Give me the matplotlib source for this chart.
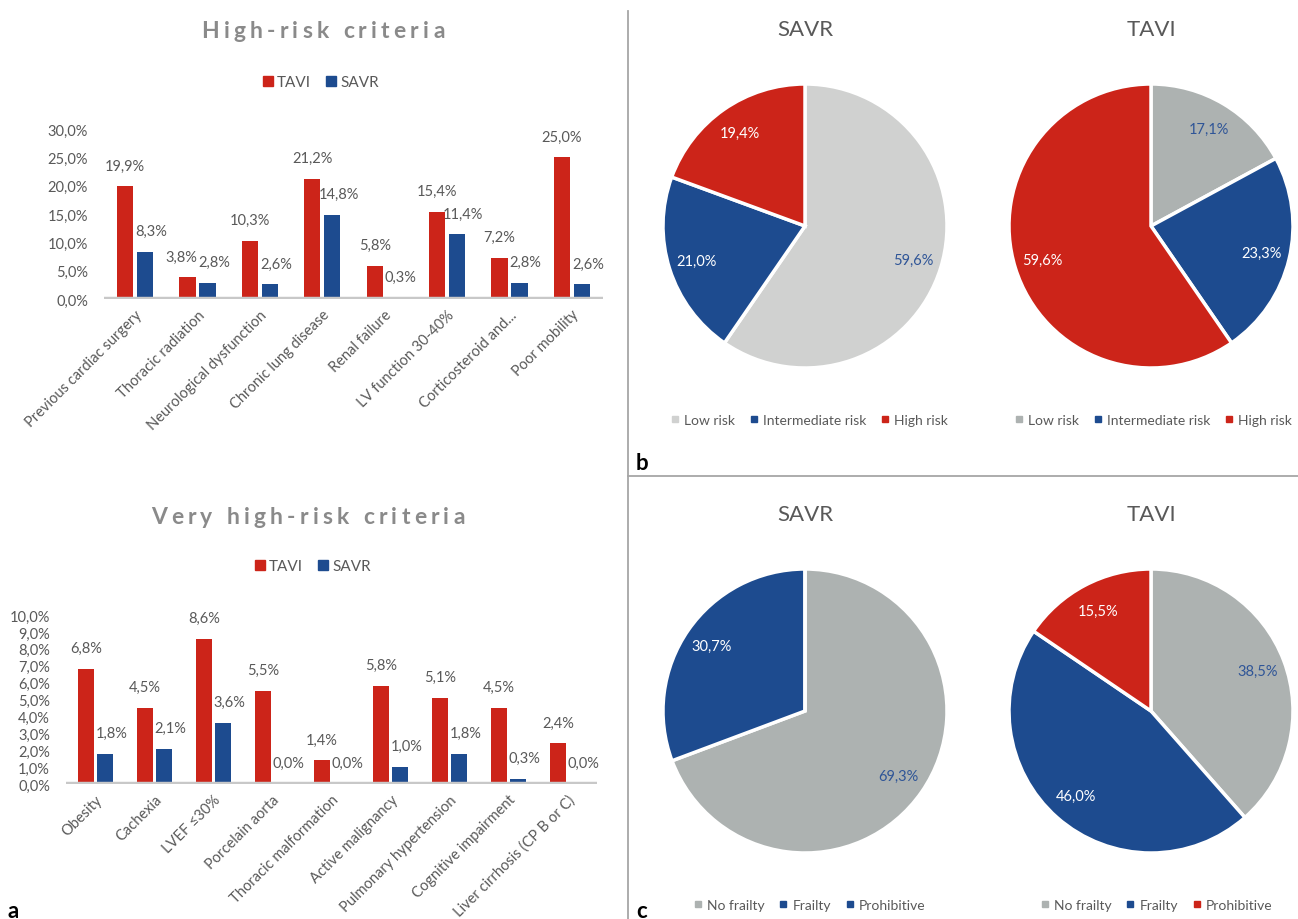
import numpy as np
import matplotlib
matplotlib.use('Agg')
import matplotlib.pyplot as plt
from matplotlib.lines import Line2D
from matplotlib.patches import Patch
from matplotlib.ticker import FuncFormatter

plt.rcParams['font.family'] = ['Lato', 'DejaVu Sans']

# ---------------------------------------------------------------------------
# Data

high_cats = ['Previous cardiac surgery', 'Thoracic radiation', 'Neurological dysfunction',
             'Chronic lung disease', 'Renal failure', 'LV function 30-40%',
             'Corticosteroid and...', 'Poor mobility']
high_tavi = [19.9, 3.8, 10.3, 21.2, 5.8, 15.4, 7.2, 25.0]
high_savr = [8.3, 2.8, 2.6, 14.8, 0.3, 11.4, 2.8, 2.6]

very_cats = ['Obesity', 'Cachexia', 'LVEF ≤30%', 'Porcelain aorta', 'Thoracic malformation',
             'Active malignancy', 'Pulmonary hypertension', 'Cognitive impairment',
             'Liver cirrhosis (CP B or C)']
very_tavi = [6.8, 4.5, 8.6, 5.5, 1.4, 5.8, 5.1, 4.5, 2.4]
very_savr = [1.8, 2.1, 3.6, 0.0, 0.0, 1.0, 1.8, 0.3, 0.0]

risk_labels = ['Low risk', 'Intermediate risk', 'High risk']
risk_savr = [59.6, 21.0, 19.4]
risk_tavi = [17.1, 23.3, 59.6]

frailty_labels = ['No frailty', 'Frailty', 'Prohibitive']
frailty_savr = [69.3, 30.7, 0.0]
frailty_tavi = [38.5, 46.0, 15.5]

# ---------------------------------------------------------------------------
# Style

RED = '#cc2419'
BLUE = '#1d4b8f'
GRAY = '#adb2b1'
GRAY_LIGHT = '#d0d1d0'
TEXT = '#595959'
TITLE = '#8a8a8a'
PCT_BLUE = '#2f5597'
FS = 10.5

W, H = 1298, 920
fig = plt.figure(figsize=(W / 100, H / 100), dpi=100)


def fx(px):
    return px / W


def fy(py):
    return 1 - py / H


def pct(v):
    return f'{v:.1f}%'.replace('.', ',')


def spaced_title(xc, y, s, gap, **kw):
    # matplotlib has no letter spacing, so place the characters one by one
    r = fig.canvas.get_renderer()
    widths = []
    for ch in s:
        t = fig.text(0, 0, ch, **kw)
        w = t.get_window_extent(r).width
        t.remove()
        widths.append(w if ch != ' ' else kw['fontsize'] * 0.35)
    total = sum(widths) + gap * (len(s) - 1)
    x = xc - total / 2
    for ch, w in zip(s, widths):
        if ch != ' ':
            fig.text(fx(x), fy(y), ch, ha='left', va='center', **kw)
        x += w + gap


def bar_panel(rect, cats, tavi, savr, ymax, ystep, title, title_xy, leg_xy):
    ax = fig.add_axes(rect)
    x = np.arange(len(cats))
    w, off = 0.26, 0.16
    b1 = ax.bar(x - off, tavi, w, color=RED)
    b2 = ax.bar(x + off, savr, w, color=BLUE)
    # SAVR labels sit a little to the right so they clear the red bars;
    # when both labels end up at the same height the TAVI one moves left
    for i in range(len(cats)):
        close = abs(tavi[i] - savr[i]) < 0.3 * ystep
        for b, v, dx in ((b1[i], tavi[i], -4.5 if close else 0), (b2[i], savr[i], 4.5)):
            ax.annotate(pct(v), (b.get_x() + b.get_width() / 2, v), xytext=(dx, 15),
                        textcoords='offset points', ha='center', va='center',
                        fontsize=FS, color=TEXT)
    ax.set_xlim(-0.5, len(cats) - 0.5)
    ax.set_ylim(0, ymax)
    ax.set_yticks(np.arange(0, ymax + ystep / 2, ystep))
    ax.yaxis.set_major_formatter(FuncFormatter(lambda v, p: pct(v)))
    ax.set_xticks(x)
    ax.set_xticklabels(cats, rotation=45, ha='right', rotation_mode='anchor')
    ax.tick_params(length=0, colors=TEXT, labelsize=FS)
    ax.tick_params(axis='y', pad=11.5)
    ax.tick_params(axis='x', pad=6)
    for s in ax.spines.values():
        s.set_visible(False)
    ax.axhline(0, color='#c8c8c8', lw=3.2, zorder=3)

    spaced_title(title_xy[0], title_xy[1], title, 4.2, fontsize=16.5,
                 fontweight='bold', color=TITLE)
    handles = [Patch(color=RED, label='TAVI'), Patch(color=BLUE, label='SAVR')]
    fig.legend(handles=handles, loc='center', bbox_to_anchor=(fx(leg_xy[0]), fy(leg_xy[1])),
               ncol=2, frameon=False, fontsize=11, labelcolor=TEXT, handlelength=0.65,
               handleheight=0.65, handletextpad=0.25, columnspacing=1.0)
    return ax


def pie_label(p):
    return pct(p) if p > 0.05 else ''


def pie_panel(cx, cy, vals, colors, labels, title, leg_x, leg_y, leg_colors):
    r = 142
    ax = fig.add_axes([fx(cx - r), fy(cy + r), 2 * r / W, 2 * r / H])
    wedges, _, autotexts = ax.pie(vals, colors=colors, startangle=90, counterclock=False,
                                  autopct=pie_label, pctdistance=0.8,
                                  wedgeprops=dict(edgecolor='white', linewidth=2.5),
                                  textprops=dict(fontsize=FS))
    for t, c in zip(autotexts, colors):
        t.set_color(PCT_BLUE if c in (GRAY, GRAY_LIGHT) else 'white')
    ax.set_xlim(-1, 1)
    ax.set_ylim(-1, 1)
    ax.set_aspect('equal')
    fig.text(fx(cx), fy(cy - 197), title, ha='center', va='center', fontsize=16, color=TEXT)
    handles = [Line2D([], [], marker='s', ls='', markersize=4, color=c, label=l)
               for c, l in zip(leg_colors, labels)]
    fig.legend(handles=handles, loc='center', bbox_to_anchor=(fx(leg_x), fy(leg_y)),
               ncol=3, frameon=False, fontsize=10, labelcolor=TEXT, handlelength=0.5,
               handletextpad=0.4, columnspacing=1.1)


# ---------------------------------------------------------------------------
# Panel a: bar charts

bar_panel([fx(104), fy(300), 499 / W, 170 / H], high_cats, high_tavi, high_savr, 30, 5,
          'High-risk criteria', (323, 31), (321, 83))
bar_panel([fx(66), fy(785), 531 / W, 169 / H], very_cats, very_tavi, very_savr, 10, 1,
          'Very high-risk criteria', (308, 517), (313, 567))

# ---------------------------------------------------------------------------
# Panels b and c: pies

pie_panel(805, 227, risk_savr, [GRAY_LIGHT, BLUE, RED], risk_labels, 'SAVR', 810, 421,
          [GRAY_LIGHT, BLUE, RED])
pie_panel(1151, 227, risk_tavi, [GRAY, BLUE, RED], risk_labels, 'TAVI', 1154, 421,
          [GRAY, BLUE, RED])
pie_panel(805, 712, frailty_savr, [GRAY, BLUE, RED], frailty_labels, 'SAVR', 810, 906,
          [GRAY, BLUE, BLUE])
pie_panel(1151, 712, frailty_tavi, [GRAY, BLUE, RED], frailty_labels, 'TAVI', 1157, 906,
          [GRAY, BLUE, RED])

# ---------------------------------------------------------------------------
# Dividers and panel letters

fig.add_artist(Line2D([fx(628), fx(628)], [fy(12), 0], color='#a6a6a6', lw=1.3))
fig.add_artist(Line2D([fx(628), 1], [fy(477), fy(477)], color='#a6a6a6', lw=1.3))

for letter, x, y in (('a', 8, 918), ('b', 636, 470), ('c', 636, 918)):
    fig.text(fx(x), fy(y), letter, ha='left', va='baseline', fontsize=16,
             fontweight='bold', color='black')

fig.savefig('out.png', dpi=100)
